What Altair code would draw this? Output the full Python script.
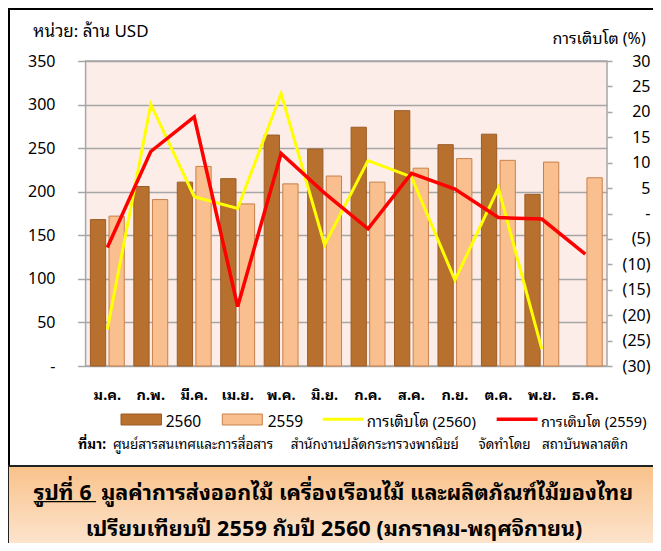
import altair as alt
import pandas as pd

# ---------------- data ----------------
months = ["ม.ค.", "ก.พ.", "มี.ค.", "เม.ย.", "พ.ค.", "มิ.ย.",
          "ก.ค.", "ส.ค.", "ก.ย.", "ต.ค.", "พ.ย.", "ธ.ค."]
value_2560 = [168, 206, 211, 215, 265, 249, 274, 293, 254, 266, 197]          # no ธ.ค.
value_2559 = [172, 191, 229, 186, 209, 218, 211, 227, 238, 236, 234, 216]
growth_2560 = [-22.8, 21.5, 3.3, 1.0, 23.6, -6.2, 10.4, 7.2, -13.1, 5.0, -26.7]
growth_2559 = [-6.7, 12.2, 19.0, -18.3, 11.8, 4.0, -3.0, 7.9, 4.8, -0.8, -1.1, -8.0]

years = ["2560", "2559"]
series = ["การเติบโต (2560)", "การเติบโต (2559)"]

bars_df = pd.DataFrame(
    [{"month": m, "year": "2560", "value": v} for m, v in zip(months, value_2560)]
    + [{"month": m, "year": "2559", "value": v} for m, v in zip(months, value_2559)]
)
lines_df = pd.DataFrame(
    [{"month": m, "series": series[0], "growth": g} for m, g in zip(months, growth_2560)]
    + [{"month": m, "series": series[1], "growth": g} for m, g in zip(months, growth_2559)]
)

# ---------------- style ----------------
FONT = ("Tahoma, 'Noto Sans Thai Looped', 'Loma', 'Garuda', 'Noto Sans Thai', "
        "'Leelawadee UI', 'DejaVu Sans', sans-serif")
BAR_FILL = ["#B8702F", "#F9BF8F"]
BAR_STROKE = ["#9C5C26", "#C8804A"]
LINE_COL = ["#FFFF00", "#FF0000"]
GRID = "#A6A6A6"

W, H = 521.4, 305

xaxis = alt.Axis(title=None, labelFont=FONT, labelFontSize=14.5, labelFontWeight="bold",
                 labelColor="black", ticks=False, domain=False, labelPadding=22, labelAngle=0)
xscale = alt.Scale(paddingInner=0.22, paddingOuter=0.11)

bars = alt.Chart(bars_df).mark_bar(strokeWidth=1).encode(
    x=alt.X("month:N", sort=months, scale=xscale, axis=xaxis),
    xOffset=alt.XOffset("year:N", sort=years, scale=alt.Scale(domain=years, paddingInner=0.18)),
    y=alt.Y("value:Q", scale=alt.Scale(domain=[0, 350], nice=False),
            axis=alt.Axis(title=None, values=list(range(0, 351, 50)), grid=True, gridColor=GRID,
                          gridWidth=1.5, tickColor=GRID, tickSize=8, tickWidth=1.5, domain=False,
                          labelFont=FONT, labelFontSize=16, labelColor="black", labelPadding=22.6,
                          labelExpr="datum.value == 0 ? '-' : datum.label")),
    color=alt.Color("year:N", scale=alt.Scale(domain=years, range=BAR_FILL), legend=None),
    stroke=alt.Stroke("year:N", scale=alt.Scale(domain=years, range=BAR_STROKE), legend=None),
)

lines = alt.Chart(lines_df).mark_line(strokeJoin="miter").encode(
    x=alt.X("month:N", sort=months, scale=xscale, axis=xaxis),
    y=alt.Y("growth:Q", scale=alt.Scale(domain=[-30, 30], nice=False),
            axis=alt.Axis(title=None, orient="right", values=list(range(-30, 31, 5)), grid=False,
                          tickColor=GRID, tickSize=5, tickWidth=1.5, domain=False,
                          labelFont=FONT, labelFontSize=16, labelColor="black",
                          labelAlign="right", labelPadding=38,
                          labelExpr="datum.value == 0 ? '-' : (datum.value < 0 ? '(' + format(-datum.value, 'd') + ')' : format(datum.value, 'd'))")),
    color=alt.Color("series:N", scale=alt.Scale(domain=series, range=LINE_COL), legend=None),
    strokeWidth=alt.StrokeWidth("series:N", scale=alt.Scale(domain=series, range=[3, 3.5]), legend=None),
    order=alt.Order("series:N"),
    detail="series:N",
)


def txt(s, x, y, size=16, bold=False, align="left"):
    return alt.Chart(alt.Data(values=[{"t": 0}])).mark_text(
        text=s, align=align, baseline="alphabetic", fontSize=size,
        fontWeight="bold" if bold else "normal", font=FONT, color="black"
    ).encode(x=alt.value(x), y=alt.value(y))


def box(x, x2, y, y2, **kw):
    return alt.Chart(alt.Data(values=[{"t": 0}])).mark_rect(**kw).encode(
        x=alt.value(x), x2=alt.value(x2), y=alt.value(y), y2=alt.value(y2))


def hline(x, x2, y, color, width):
    return alt.Chart(alt.Data(values=[{"t": 0}])).mark_rule(color=color, strokeWidth=width).encode(
        x=alt.value(x), x2=alt.value(x2), y=alt.value(y))


OX, OY = 85.6, 61  # plot origin on the page

frame = box(8 - OX + 1, 700, 8 - OY + 1, 466 - OY, fill="white", fillOpacity=0,
            stroke="black", strokeWidth=2)
caption_box = box(8 - OX, 700, 466 - OY, 560 - OY, stroke="#222222", strokeWidth=2,
                  fill={"gradient": "linear", "x1": 0, "y1": 0, "x2": 0, "y2": 1,
                        "stops": [{"offset": 0, "color": "#F9C28A"},
                                  {"offset": 1, "color": "#FDEBDB"}]})

legend = [
    box(121 - OX, 161.5 - OX, 414 - OY, 425 - OY, fill=BAR_FILL[0], stroke=BAR_STROKE[0], strokeWidth=1),
    txt("2560", 165.7 - OX, 427.3 - OY, size=15.5),
    box(222.3 - OX, 262.3 - OX, 414 - OY, 425 - OY, fill=BAR_FILL[1], stroke=BAR_STROKE[1], strokeWidth=1),
    txt("2559", 267.7 - OX, 427.3 - OY, size=15.5),
    hline(322.7 - OX, 363.3 - OX, 419.3 - OY, LINE_COL[0], 3),
    txt(series[0], 366.8 - OX, 427.3 - OY, size=15),
    hline(496.7 - OX, 537.6 - OX, 419.3 - OY, LINE_COL[1], 3.5),
    txt(series[1], 541 - OX, 427.3 - OY, size=14.5),
]

texts = [
    txt("หน่วย: ล้าน USD", 33.3 - OX, 36.7 - OY, size=17),
    txt("การเติบโต (%)", 645.7 - OX, 43.5 - OY, size=16, align="right"),
    txt("ที่มา:", 92 - OX, 449 - OY, size=13.5, bold=True, align="center"),
    txt("ศูนย์สารสนเทศและการสื่อสาร", 193 - OX, 449 - OY, size=13.5, align="center"),
    txt("สำนักงานปลัดกระทรวงพาณิชย์", 374.7 - OX, 449 - OY, size=13.5, align="center"),
    txt("จัดทำโดย", 504.5 - OX, 449 - OY, size=13.5, align="center"),
    txt("สถาบันพลาสติก", 585 - OX, 449 - OY, size=13.5, align="center"),
    txt("รูปที่ 6", 33.7 - OX, 499.5 - OY, size=21.5, bold=True),
    hline(33.7 - OX, 96.1 - OX, 501.7 - OY, "black", 1.3),
    txt("มูลค่าการส่งออกไม้ เครื่องเรือนไม้ และผลิตภัณฑ์ไม้ของไทย", 101.2 - OX, 499.5 - OY, size=21.5, bold=True),
    txt("เปรียบเทียบปี 2559 กับปี 2560 (มกราคม-พฤศจิกายน)", 334 - OX, 535.5 - OY, size=21.5, bold=True, align="center"),
]

chart = alt.layer(
    frame, caption_box, bars, lines, *legend, *texts
).resolve_scale(
    y="independent", color="independent", stroke="independent", strokeWidth="independent"
).properties(
    width=W, height=H,
    autosize=alt.AutoSizeParams(type="none"),
    padding={"left": OX - 8, "top": OY - 8, "right": 645 - (OX - 8) - W, "bottom": 535 - (OY - 8) - H},
    background="white",
).configure_view(
    fill="#FCEDE8", stroke=GRID, strokeWidth=1.5
)

chart.save("out.html", embed_options={"renderer": "svg", "actions": False})
